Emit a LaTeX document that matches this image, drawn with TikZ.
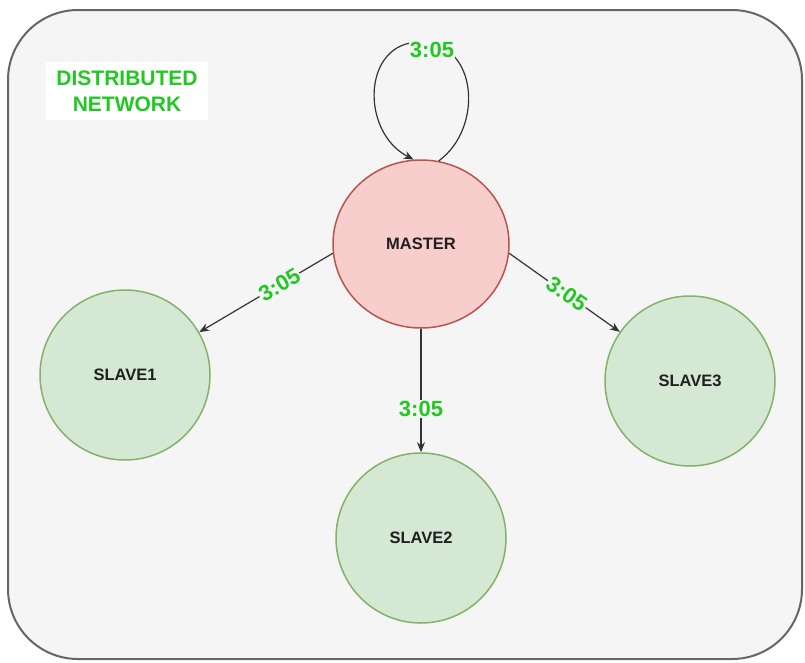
\documentclass[tikz,border=0pt]{standalone}
\usepackage{fontspec}
\setmainfont{Liberation Sans}
\usetikzlibrary{arrows.meta, shapes.geometric}
\definecolor{framebg}{HTML}{F5F5F5}
\definecolor{frameline}{HTML}{666666}
\definecolor{masterfill}{HTML}{F8CECC}
\definecolor{masterline}{HTML}{B85450}
\definecolor{slavefill}{HTML}{D5E8D4}
\definecolor{slaveline}{HTML}{82B366}
\definecolor{labelgreen}{RGB}{34,200,34}
\definecolor{ink}{HTML}{333333}
\tikzset{
  nodebox/.style={ellipse, draw, line width=1.5pt, inner sep=0pt,
    font=\fontsize{16.5}{19}\selectfont\bfseries, text=black!88},
  masternode/.style={nodebox, fill=masterfill, draw=masterline,
    minimum width=176pt, minimum height=168pt},
  slavenode/.style={nodebox, fill=slavefill, draw=slaveline,
    minimum width=170pt, minimum height=170pt},
  link/.style={draw=ink, line width=1.2pt, -{Stealth[length=10pt,width=8pt]}},
  timelabel/.style={text=labelgreen, font=\fontsize{22}{24}\selectfont\bfseries,
    fill=framebg, inner sep=1pt},
}
\begin{document}
\begin{tikzpicture}[x=1pt, y=-1pt]
  \useasboundingbox (0,0) rectangle (805,662);
  % rounded frame of the network
  \draw[fill=framebg, draw=frameline, line width=2pt, rounded corners=70pt]
    (8,10) rectangle (802,659);
  % title
  \node[fill=white, text=labelgreen, font=\fontsize{21}{26}\selectfont\bfseries,
    align=center, minimum width=162pt, minimum height=58pt, inner sep=0pt]
    (title) at (127,91) {DISTRIBUTED\\NETWORK};
  % nodes
  \node[masternode] (M) at (421,244) {MASTER};
  \node[slavenode] (S1) at (125,375) {SLAVE1};
  \node[slavenode] (S2) at (421,538) {SLAVE2};
  \node[slavenode] (S3) at (690,381) {SLAVE3};
  % self loop on the master
  \draw[link] (M.78) .. controls (484,128) and (478,42) .. (420,42)
    .. controls (362,42) and (360,132) .. (M.95);
  \node[timelabel] (L0) at (432,50) {3:05};
  % links to the slaves
  \draw[link] (M.186) -- node[timelabel, sloped, pos=0.4] (L1) {3:05} (S1.30);
  \draw[link] (M.south) -- node[timelabel, pos=0.65] (L2) {3:05} (S2.north);
  \draw[link] (M.-6) -- node[timelabel, sloped, pos=0.52] (L3) {3:05} (S3.145);
\end{tikzpicture}
\end{document}
